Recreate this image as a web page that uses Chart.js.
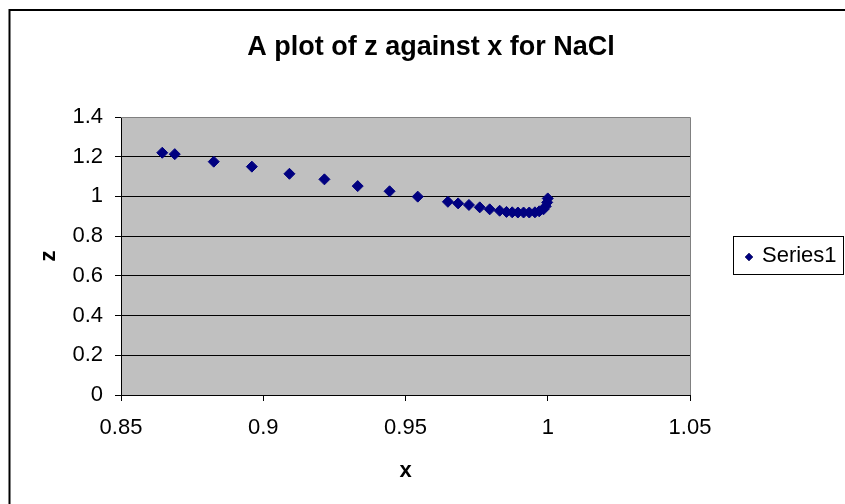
<!DOCTYPE html>
<html>
<head>
<meta charset="utf-8">
<script src="https://cdn.jsdelivr.net/npm/chart.js@4/dist/chart.umd.min.js"></script>
<style>
  body { margin: 0; background: #fff; }
</style>
</head>
<body>
<canvas id="zChart" width="845" height="504"></canvas>
<script>
// data
const seriesName = 'Series1';
const xValues = [0.8645, 0.8689, 0.8826, 0.8960, 0.9092, 0.9215, 0.9332, 0.9444, 0.9543,
                 0.9649, 0.9685, 0.9723, 0.9761, 0.9796, 0.9831, 0.9855, 0.9875, 0.9895,
                 0.9915, 0.9935, 0.9955, 0.9970, 0.9985, 0.9993, 0.9998, 1.0000];
const zValues = [1.220, 1.213, 1.175, 1.150, 1.114, 1.086, 1.052, 1.026, 0.999,
                 0.973, 0.965, 0.957, 0.945, 0.935, 0.928, 0.922, 0.920, 0.919,
                 0.919, 0.919, 0.920, 0.925, 0.935, 0.950, 0.970, 0.990];
const xTicks = { min: 0.85, max: 1.05, step: 0.05 };
const yTicks = { min: 0, max: 1.4, step: 0.2 };

Chart.defaults.font.family = "'Liberation Sans', Arial, sans-serif";
Chart.defaults.font.size = 22;
Chart.defaults.color = '#000';

// excel style labels: 1 not 1.0, 0.9 not 0.90
const plainNumber = v => String(Number(v.toFixed(3)));

// grey plot area, outer frame and the boxed legend
const excelLook = {
    id: 'excelLook',
    beforeDraw(chart) {
        const { ctx, chartArea: a } = chart;
        ctx.save();
        ctx.fillStyle = '#c0c0c0';
        ctx.fillRect(a.left, a.top, a.right - a.left, a.bottom - a.top);
        ctx.restore();
    },
    afterDraw(chart) {
        const { ctx, chartArea: a } = chart;
        ctx.save();
        // plot border (top/right)
        ctx.strokeStyle = '#808080';
        ctx.lineWidth = 1;
        ctx.beginPath();
        ctx.moveTo(a.left, a.top + 0.5);
        ctx.lineTo(a.right + 0.5, a.top + 0.5);
        ctx.lineTo(a.right + 0.5, a.bottom);
        ctx.stroke();
        // outer frame
        ctx.strokeStyle = '#000';
        ctx.lineWidth = 2;
        ctx.beginPath();
        ctx.moveTo(9.5, chart.height + 5);
        ctx.lineTo(9.5, 10);
        ctx.lineTo(chart.width + 5, 10);
        ctx.stroke();
        // legend
        const ds = chart.data.datasets[0];
        const lx = a.right + 43, ly = (a.top + a.bottom) / 2 - 20;
        ctx.lineWidth = 1;
        ctx.strokeRect(lx + 0.5, ly + 0.5, 110, 38);
        Chart.helpers.drawPoint(ctx, { pointStyle: 'rectRot', radius: 4, borderWidth: 0 },
            lx + 16, ly + 21);
        ctx.fillStyle = ds.backgroundColor;
        ctx.fill();
        ctx.fillStyle = '#000';
        ctx.font = "22px 'Liberation Sans', Arial, sans-serif";
        ctx.textBaseline = 'middle';
        ctx.fillText(ds.label, lx + 29, ly + 20);
        ctx.restore();
    }
};

const ctx = document.getElementById('zChart').getContext('2d');
new Chart(ctx, {
    type: 'scatter',
    data: {
        datasets: [{
            label: seriesName,
            data: xValues.map((x, i) => ({ x: x, y: zValues[i] })),
            pointStyle: 'rectRot',
            pointRadius: 5.5,
            borderWidth: 1,
            backgroundColor: '#000080',
            borderColor: '#000080'
        }]
    },
    options: {
        responsive: false,
        animation: false,
        events: [],
        layout: { padding: { left: 17, right: 0, top: 0, bottom: 0 } },
        plugins: {
            legend: { display: false },
            tooltip: { enabled: false },
            title: {
                display: true,
                text: 'A plot of z against x for NaCl',
                color: '#000',
                font: { size: 27, weight: 'bold' },
                padding: { top: 31, bottom: 53.6 }
            }
        },
        scales: {
            x: {
                type: 'linear',
                min: xTicks.min,
                max: xTicks.max,
                afterFit(s) { s.height = 109; },
                ticks: { stepSize: xTicks.step, padding: 14, maxRotation: 0, callback: plainNumber },
                grid: { drawOnChartArea: false, tickLength: 6, color: '#000' },
                border: { color: '#000', width: 1 },
                title: {
                    display: true,
                    text: 'x',
                    font: { size: 22, weight: 'bold' },
                    padding: { bottom: 20 }
                }
            },
            y: {
                min: yTicks.min,
                max: yTicks.max,
                afterFit(s) { s.width = 104; },
                ticks: { stepSize: yTicks.step, padding: 12, callback: plainNumber },
                grid: {
                    tickLength: 6,
                    color: c => (c.tick && c.tick.value === yTicks.max) ? '#808080' : '#000',
                    tickColor: '#000'
                },
                border: { color: '#000', width: 1 },
                title: {
                    display: true,
                    text: 'z',
                    font: { size: 22, weight: 'bold' },
                    padding: { top: 19 }
                }
            },
            // empty right-hand strip that holds the legend
            side: {
                position: 'right',
                afterFit(s) { s.width = 155; },
                ticks: { display: false },
                grid: { display: false },
                border: { display: false }
            }
        }
    },
    plugins: [excelLook]
});
</script>
</body>
</html>
